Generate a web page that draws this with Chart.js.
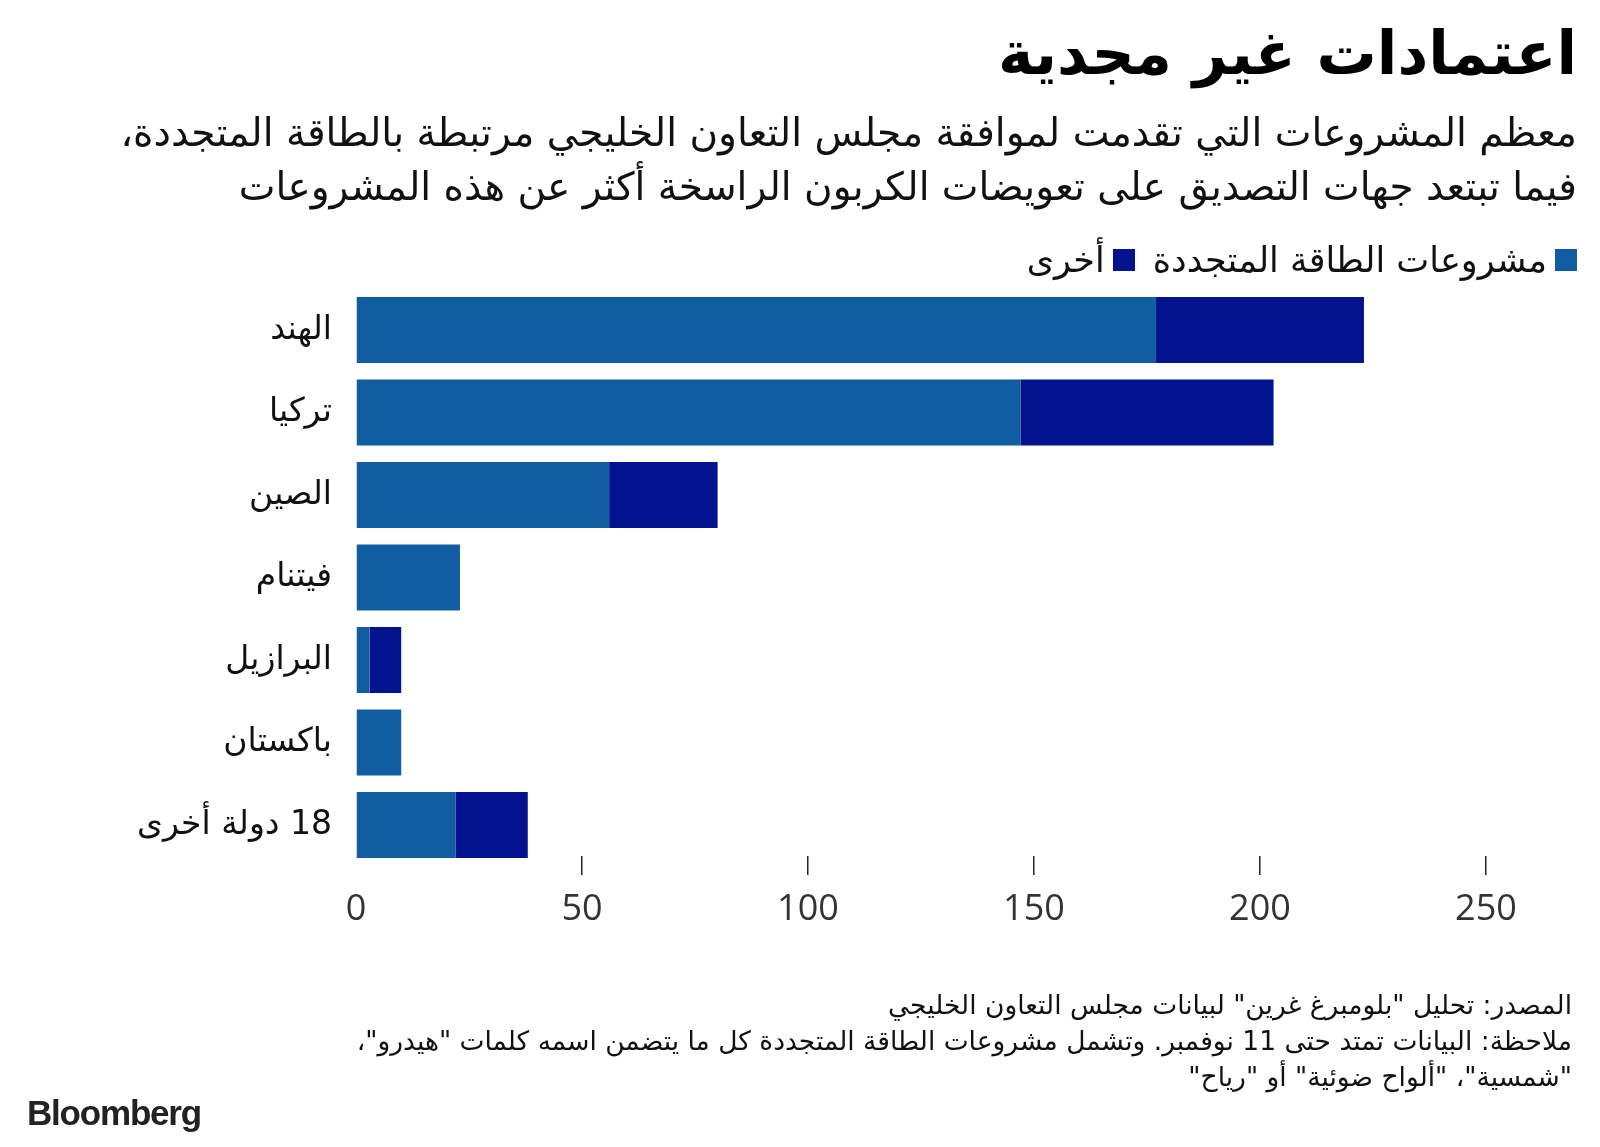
<!DOCTYPE html>
<html lang="ar">
<head>
<meta charset="utf-8">
<title>اعتمادات غير مجدية</title>
<script src="https://cdn.jsdelivr.net/npm/chart.js@4.4.1/dist/chart.umd.min.js"></script>
<style>
  html, body { margin: 0; padding: 0; background: #fff; }
  #page { position: relative; width: 1600px; height: 1147px; overflow: hidden; font-family: "DejaVu Sans", sans-serif; color: #111; }
  #chart { position: absolute; left: 0; top: 0; direction: rtl; }
  .txt { position: absolute; right: 23px; direction: rtl; text-align: right; white-space: nowrap; }
  #title { top: 18px; font-size: 60px; font-weight: bold; color: #000; letter-spacing: -1px; }
  #subtitle { top: 106px; font-size: 39px; line-height: 54px; color: #111; }
  #legend { top: 240px; font-size: 35px; display: flex; gap: 0; }
  #legend span.item { display: inline-flex; align-items: center; margin-left: 18px; }
  #legend i { display: inline-block; width: 22px; height: 22px; margin-left: 8px; }
  #footer { top: 987px; right: 28px; font-size: 26.5px; line-height: 36px; color: #111; }
  #logo { position: absolute; left: 27px; top: 1093px; font-family: "Liberation Sans", Arial, sans-serif; font-weight: bold; font-size: 35px; letter-spacing: -1.2px; color: #222; }
</style>
</head>
<body>
<div id="page">
  <canvas id="chart" width="1600" height="1147"></canvas>
  <div class="txt" id="title">اعتمادات غير مجدية</div>
  <div class="txt" id="subtitle">معظم المشروعات التي تقدمت لموافقة مجلس التعاون الخليجي مرتبطة بالطاقة المتجددة،<br>فيما تبتعد جهات التصديق على تعويضات الكربون الراسخة أكثر عن هذه المشروعات</div>
  <div class="txt" id="legend"></div>
  <div class="txt" id="footer">المصدر: تحليل "بلومبرغ غرين" لبيانات مجلس التعاون الخليجي<br>ملاحظة: البيانات تمتد حتى 11 نوفمبر. وتشمل مشروعات الطاقة المتجددة كل ما يتضمن اسمه كلمات "هيدرو"،<br>"شمسية"، "ألواح ضوئية" أو "رياح"</div>
  <div id="logo">Bloomberg</div>
</div>
<script>
// data
const countries = ['الهند', 'تركيا', 'الصين', 'فيتنام', 'البرازيل', 'باكستان', '18 دولة أخرى'];
const renewable = [177, 147, 56, 23, 3, 10, 22];
const other = [46, 56, 24, 0, 7, 0, 16];
const seriesNames = ['مشروعات الطاقة المتجددة', 'أخرى'];
const seriesColors = ['#105da2', '#03128f'];
const xTicks = [0, 50, 100, 150, 200, 250];

document.addEventListener('DOMContentLoaded', () => {
    const ctx = document.getElementById('chart').getContext('2d');
    const chart = new Chart(ctx, {
        type: 'bar',
        data: {
            labels: countries,
            datasets: [{
                label: seriesNames[0],
                data: renewable,
                backgroundColor: seriesColors[0],
                borderWidth: 0,
            }, {
                label: seriesNames[1],
                data: other,
                backgroundColor: seriesColors[1],
                borderWidth: 0,
            }]
        },
        options: {
            indexAxis: 'y',
            responsive: false,
            animation: false,
            layout: {
                padding: { top: 288.75, bottom: 280.75, left: 0, right: 114 }
            },
            datasets: {
                bar: { categoryPercentage: 1, barPercentage: 0.8 }
            },
            plugins: {
                legend: { display: false },
                tooltip: { enabled: false },
            },
            scales: {
                x: {
                    stacked: true,
                    min: xTicks[0],
                    max: xTicks[xTicks.length - 1],
                    // tick marks sit just under the last bar
                    position: { y: 6 + 31 / 82.5 },
                    afterFit: (scale) => { scale.height = 0; },
                    afterBuildTicks: (scale) => { scale.ticks = xTicks.map(v => ({ value: v })); },
                    border: { display: false },
                    grid: {
                        drawOnChartArea: false,
                        drawTicks: true,
                        tickLength: 19,
                        lineWidth: 1.5,
                        tickColor: (c) => (c.tick && c.tick.value === 0) ? 'rgba(0,0,0,0)' : '#222',
                    },
                    ticks: {
                        padding: 13,
                        color: '#333',
                        font: { family: 'Open Sans', size: 36 },
                    }
                },
                y: {
                    stacked: true,
                    afterFit: (scale) => { scale.width = 356; },
                    border: { display: false },
                    grid: { display: false },
                    ticks: {
                        padding: 16,
                        color: '#111',
                        font: { family: 'DejaVu Sans', size: 33 },
                    }
                }
            }
        }
    });

    // html legend from the datasets
    const legend = document.getElementById('legend');
    chart.data.datasets.forEach((ds) => {
        const item = document.createElement('span');
        item.className = 'item';
        item.innerHTML = '<i style="background:' + ds.backgroundColor + '"></i>' + ds.label;
        legend.appendChild(item);
    });
});
</script>
</body>
</html>
